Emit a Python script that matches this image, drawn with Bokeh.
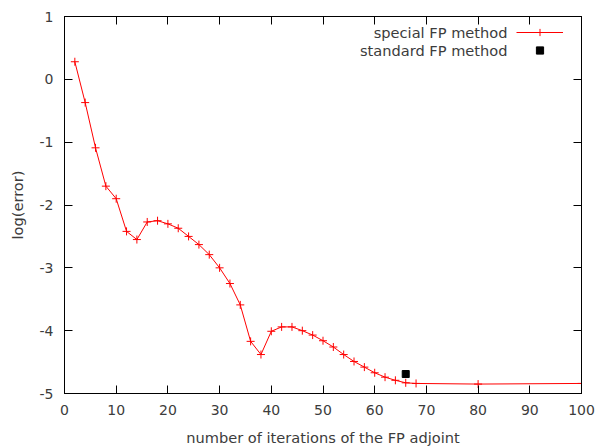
from bokeh.plotting import figure
from bokeh.models import LinearAxis, FixedTicker, Range1d, Legend, LegendItem, Label
from bokeh.core.properties import value
from bokeh.embed import file_html
from bokeh.resources import INLINE

# ---- data ----
iterations = [2, 4, 6, 8, 10, 12, 14, 16, 18, 20, 22, 24, 26, 28, 30, 32, 34, 36,
              38, 40, 42, 44, 46, 48, 50, 52, 54, 56, 58, 60, 62, 64, 66, 68, 80, 100]
log_error = [0.28, -0.37, -1.09, -1.70, -1.90, -2.42, -2.55, -2.27, -2.25, -2.30,
             -2.37, -2.50, -2.63, -2.79, -3.00, -3.25, -3.59, -4.17, -4.38, -4.01,
             -3.94, -3.94, -4.00, -4.07, -4.16, -4.26, -4.38, -4.49, -4.58, -4.67,
             -4.74, -4.79, -4.83, -4.84, -4.85, -4.84]
standard_iter = [66]
standard_err = [-4.69]
x_ticks = [0, 10, 20, 30, 40, 50, 60, 70, 80, 90, 100]
y_ticks = [-5, -4, -3, -2, -1, 0, 1]
series_names = ["special FP method", "standard FP method"]

FONT = "DejaVu Sans"
TXT = "#3c3c3c"
FS = "14px"
FS_LAB = "14.6px"

p = figure(width=598, height=448, output_backend="svg", toolbar_location=None,
           x_range=Range1d(0, 100), y_range=Range1d(-5, 1),
           min_border_left=64, min_border_right=17, min_border_top=16, min_border_bottom=55,
           x_axis_label="number of iterations of the FP adjoint", y_axis_label="log(error)")
p.grid.visible = False
p.outline_line_color = "black"
p.background_fill_color = "white"
p.border_fill_color = "white"

def style_axis(ax, ticks, labels=True):
    ax.ticker = FixedTicker(ticks=ticks)
    ax.axis_line_color = "black"
    ax.major_tick_line_color = "black"
    ax.major_tick_in = 8
    ax.major_tick_out = 0
    ax.minor_tick_line_color = None
    ax.major_label_text_font = FONT
    ax.major_label_text_color = TXT
    ax.major_label_text_font_size = FS
    ax.axis_label_text_font = FONT
    ax.axis_label_text_color = TXT
    ax.axis_label_text_font_size = FS_LAB
    ax.axis_label_text_font_style = "normal"
    if labels:
        ax.major_label_overrides = {t: str(t) for t in ticks}
    else:
        ax.major_label_overrides = {t: "" for t in ticks}
        ax.major_label_standoff = 0

style_axis(p.xaxis[0], x_ticks)
style_axis(p.yaxis[0], y_ticks)
p.xaxis[0].major_label_standoff = 11
p.xaxis[0].axis_label_standoff = 11
p.yaxis[0].major_label_standoff = 11
p.yaxis[0].axis_label_standoff = 11

top = LinearAxis()
style_axis(top, x_ticks, labels=False)
p.add_layout(top, "above")
right = LinearAxis()
style_axis(right, y_ticks, labels=False)
p.add_layout(right, "right")

ln = p.line(iterations, log_error, line_color="#ff0000", line_width=1)
mk = p.scatter(iterations, log_error, marker="cross", size=8, line_color="#ff0000", line_width=1)
sq = p.scatter(standard_iter, standard_err, marker="square", size=7, fill_color="black", line_color="black")

legend = Legend(items=[LegendItem(label=value(" "), renderers=[ln, mk]),
                       LegendItem(label=value(" "), renderers=[sq])],
                location=(452, 334), orientation="vertical",
                glyph_width=47, glyph_height=18, label_height=18, label_width=0,
                label_standoff=0, padding=0, margin=0, spacing=0,
                border_line_color=None, background_fill_alpha=0,
                label_text_font=FONT, label_text_font_size=FS)
p.add_layout(legend)

for i, name in enumerate(series_names):
    p.add_layout(Label(x=443, y=361 - 18.4 * i, x_units="screen", y_units="screen",
                       text=name, text_align="right", text_baseline="middle",
                       text_font=FONT, text_font_size=FS_LAB, text_color=TXT))

open("out.html", "w").write(file_html(p, INLINE))
